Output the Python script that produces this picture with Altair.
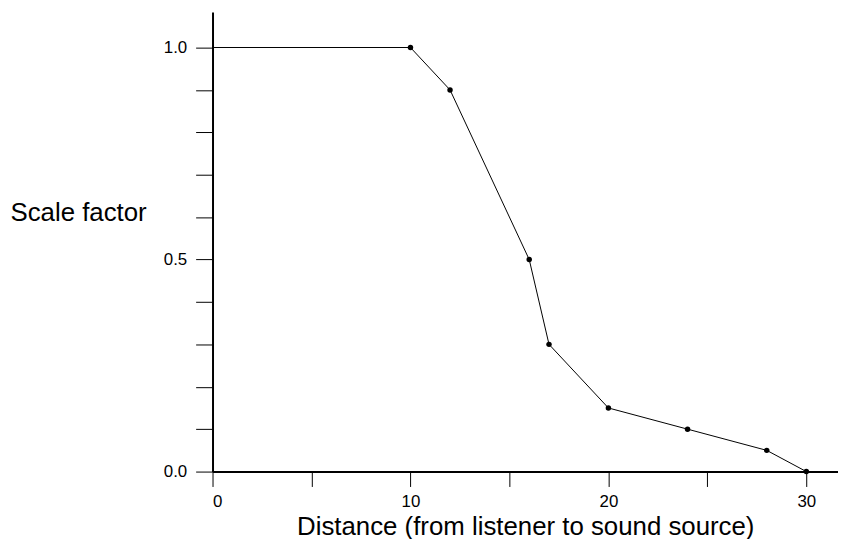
import altair as alt
import pandas as pd

distance = [0, 10, 12, 16, 17, 20, 24, 28, 30]
scale_factor = [1.0, 1.0, 0.9, 0.5, 0.3, 0.15, 0.1, 0.05, 0.0]
x_ticks = [0, 5, 10, 15, 20, 25, 30]
y_ticks = [0.0, 0.1, 0.2, 0.3, 0.4, 0.5, 0.6, 0.7, 0.8, 0.9, 1.0]

df = pd.DataFrame({"distance": distance, "scale": scale_factor})

FONT = "Liberation Sans"

x = alt.X(
    "distance:Q",
    scale=alt.Scale(domain=[0, 31.6], nice=False, zero=False),
    axis=alt.Axis(
        title="Distance (from listener to sound source)",
        values=x_ticks,
        labelExpr="datum.value % 10 == 0 ? format(datum.value, 'd') : ''",
        grid=False,
        domainColor="black",
        domainWidth=2,
        tickColor="black",
        tickWidth=1,
        tickSize=15,
        labelFont=FONT,
        labelFontSize=17,
        labelColor="black",
        labelPadding=7,
        titleFont=FONT,
        titleFontSize=26,
        titleFontWeight="normal",
        titleColor="black",
        titleBaseline="alphabetic",
        titleY=63,
    ),
)

y = alt.Y(
    "scale:Q",
    scale=alt.Scale(domain=[0, 1.084], nice=False),
    axis=alt.Axis(
        title="Scale factor",
        values=y_ticks,
        labelExpr="round(datum.value * 10) % 5 == 0 ? format(datum.value, '.1f') : ''",
        grid=False,
        domainColor="black",
        domainWidth=2,
        tickColor="black",
        tickWidth=1,
        tickSize=17,
        labelFont=FONT,
        labelFontSize=17,
        labelColor="black",
        labelPadding=9,
        titleFont=FONT,
        titleFontSize=26,
        titleFontWeight="normal",
        titleColor="black",
        titleAngle=0,
        titleAlign="left",
        titleBaseline="middle",
        titleX=-204,
        titleY=202,
    ),
)

base = alt.Chart(df)
line = base.mark_line(color="black", strokeWidth=1).encode(x=x, y=y)
points = base.transform_filter("datum.distance > 0").mark_point(
    filled=True, color="black", size=30, opacity=1
).encode(x=x, y=y)

chart = (
    alt.layer(line, points)
    .properties(
        width=630,
        height=463,
        autosize=alt.AutoSizeParams(type="none"),
        padding={"left": 206, "top": 2, "right": 0, "bottom": 66},
    )
    .configure(background="white")
    .configure_view(stroke=None)
)

chart.save("out.html", embed_options={"renderer": "svg", "actions": False})
